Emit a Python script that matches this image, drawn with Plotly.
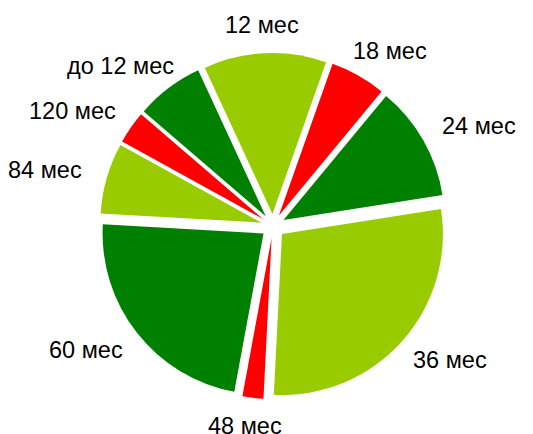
import math
import plotly.graph_objects as go

labels = ["до 12 мес", "12 мес", "18 мес", "24 мес", "36 мес", "48 мес", "60 мес", "84 мес", "120 мес"]
values = [6.8, 12.3, 5.6, 11.5, 28.3, 2.1, 23.0, 7.1, 3.3]
colors = ["#008000", "#99CC00", "#FF0000", "#008000", "#99CC00", "#FF0000", "#008000", "#99CC00", "#FF0000"]

W, H = 533, 434
cx, cy, half = 273, 226, 173
START = -49.3          # degrees clockwise from 12 o'clock
PULL = 0.075
FONT = "Liberation Sans, Arial, sans-serif"
FS = 23.5
LAB_RX = 202           # horizontal radius (px) of label anchor ring
LAB_RY = 190           # vertical radius (px) of label anchor ring
HALF_H = 11            # half text height (px)


def text_width(s):
    w = 0.0
    for ch in s:
        if ch.isdigit():
            w += 0.556
        elif ch == " ":
            w += 0.278
        else:
            w += 0.54
    return w * FS


fig = go.Figure()
fig.add_trace(go.Pie(
    labels=labels, values=values, sort=False, direction="clockwise",
    rotation=START, pull=[PULL] * len(values),
    marker=dict(colors=colors, line=dict(color="white", width=0)),
    textinfo="none", hoverinfo="none", showlegend=False,
    domain=dict(x=[(cx - half) / W, (cx + half) / W],
                y=[(H - cy - half) / H, (H - cy + half) / H]),
))

total = sum(values)
cum = 0.0
for lab, v in zip(labels, values):
    theta = math.radians(START + 360.0 * (cum + v / 2.0) / total)
    cum += v
    ux, uy = math.sin(theta), -math.cos(theta)
    hw = text_width(lab) / 2.0
    px = cx + LAB_RX * ux + hw * ux
    py = cy + LAB_RY * uy + HALF_H * uy
    fig.add_annotation(
        x=px / W, y=1 - py / H, xref="paper", yref="paper",
        text=lab, showarrow=False, xanchor="center", yanchor="middle",
        font=dict(family=FONT, size=FS, color="black"),
    )

fig.update_layout(
    width=W, height=H,
    margin=dict(l=0, r=0, t=0, b=0, autoexpand=False),
    paper_bgcolor="white",
    plot_bgcolor="white",
    font=dict(family=FONT, size=FS, color="black"),
)
fig.write_html("out.html", config={"displayModeBar": False},
               post_script="document.body.style.margin='0';")
